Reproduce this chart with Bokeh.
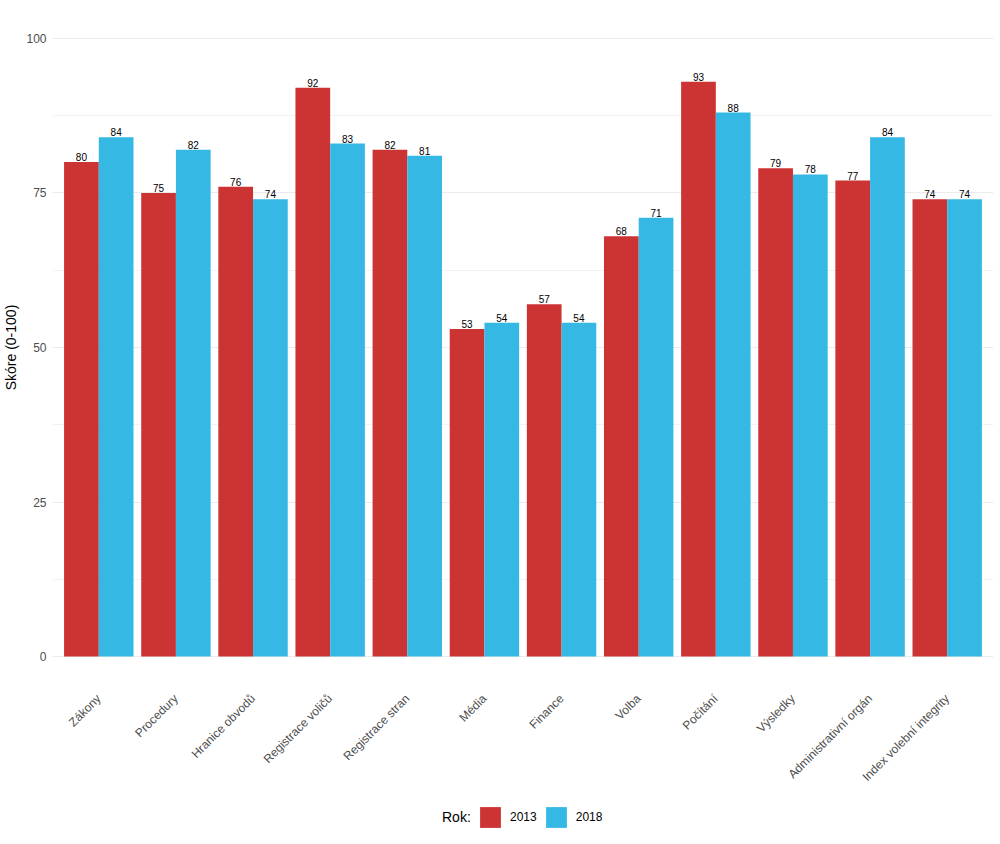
import math
from bokeh.plotting import figure
from bokeh.layouts import column
from bokeh.models import (ColumnDataSource, FactorRange, Range1d, SingleIntervalTicker,
                          Legend, LegendItem)
from bokeh.transform import dodge
from bokeh.core.properties import value
from bokeh.embed import file_html
from bokeh.resources import INLINE

categories = ["Zákony", "Procedury", "Hranice obvodů", "Registrace voličů",
              "Registrace stran", "Média", "Finance", "Volba", "Počítání",
              "Výsledky", "Administrativní orgán", "Index volební integrity"]
scores_2013 = [80, 75, 76, 92, 82, 53, 57, 68, 93, 79, 77, 74]
scores_2018 = [84, 82, 74, 83, 81, 54, 54, 71, 88, 78, 84, 74]
series_labels = ["2013", "2018"]
legend_title = "Rok:"
y_title = "Skóre (0-100)"

RED = "#CC3333"
BLUE = "#35B8E3"
FONT = "Liberation Sans"

src = ColumnDataSource(dict(
    cat=categories,
    v13=scores_2013,
    v18=scores_2018,
    t13=[str(v) for v in scores_2013],
    t18=[str(v) for v in scores_2018],
))

xr = FactorRange(factors=categories, range_padding=0.1, range_padding_units="absolute")

p = figure(x_range=xr, y_range=Range1d(-5, 105),
           frame_width=941, frame_height=680,
           output_backend="svg", toolbar_location=None)
p.min_border_left = 40
p.min_border_right = 2
p.min_border_top = 7
p.min_border_bottom = 0
p.outline_line_color = None
p.background_fill_color = "white"
p.border_fill_color = "white"

r13 = p.vbar(x=dodge("cat", -0.225, range=xr), top="v13", width=0.45,
             bottom=0, source=src, fill_color=RED, line_color=None)
r18 = p.vbar(x=dodge("cat", 0.225, range=xr), top="v18", width=0.45,
             bottom=0, source=src, fill_color=BLUE, line_color=None)

p.text(x=dodge("cat", -0.225, range=xr), y="v13", text="t13", source=src,
       text_align="center", text_baseline="alphabetic", y_offset=-5,
       text_font=value(FONT), text_font_size="10px", text_color="black")
p.text(x=dodge("cat", 0.225, range=xr), y="v18", text="t18", source=src,
       text_align="center", text_baseline="alphabetic", y_offset=-5,
       text_font=value(FONT), text_font_size="10px", text_color="black")

# grids
p.xgrid.grid_line_color = None
p.yaxis.ticker = SingleIntervalTicker(interval=25, num_minor_ticks=2)
p.ygrid.grid_line_color = "#EBEBEB"
p.ygrid.grid_line_width = 1
p.ygrid.minor_grid_line_color = "#F2F2F2"
p.ygrid.minor_grid_line_width = 1

# axes
for ax in (p.xaxis[0], p.yaxis[0]):
    ax.axis_line_color = None
    ax.major_tick_line_color = None
    ax.minor_tick_line_color = None
    ax.major_tick_out = 0
    ax.major_tick_in = 0
    ax.minor_tick_out = 0
    ax.minor_tick_in = 0
    ax.major_label_text_font = FONT
    ax.major_label_text_font_size = "12px"
    ax.major_label_text_color = "#4D4D4D"

p.yaxis.axis_label = y_title
p.yaxis.axis_label_text_font = FONT
p.yaxis.axis_label_text_font_size = "14px"
p.yaxis.axis_label_text_font_style = "normal"
p.yaxis.axis_label_text_color = "black"
p.yaxis.axis_label_standoff = 4
p.yaxis.major_label_standoff = 6

p.xaxis.axis_label = None
p.xaxis.axis_label_standoff = 0
p.xaxis.major_label_orientation = math.pi / 4
p.xaxis.major_label_standoff = 9

# strip below the chart holding the legend (its bars lie outside its y range)
lg = figure(x_range=xr, y_range=Range1d(1000, 1100),
            frame_width=941, frame_height=53, output_backend="svg",
            toolbar_location=None, x_axis_location=None, y_axis_location=None)
lg.min_border_left = 52
lg.min_border_right = 2
lg.min_border_top = 0
lg.min_border_bottom = 0
lg.outline_line_color = None
lg.grid.visible = False
k13 = lg.vbar(x=dodge("cat", -0.225, range=xr), top="v13", width=0.45, bottom=0,
              source=src, fill_color=RED, line_color=None)
k18 = lg.vbar(x=dodge("cat", 0.225, range=xr), top="v18", width=0.45, bottom=0,
              source=src, fill_color=BLUE, line_color=None)
kt = lg.vbar(x=dodge("cat", 0.0, range=xr), top="v13", width=0.45, bottom=0,
             source=src, fill_alpha=0, line_color=None)


def style(leg, size):
    leg.label_text_font = FONT
    leg.label_text_font_size = size
    leg.label_text_color = "black"
    leg.glyph_height = 26
    leg.border_line_color = None
    leg.background_fill_alpha = 0
    leg.padding = 0
    leg.margin = 0
    leg.orientation = "horizontal"


title_leg = Legend(items=[LegendItem(label=legend_title, renderers=[kt], index=0)],
                   location=(390, 14))
style(title_leg, "14px")
title_leg.glyph_width = 0
title_leg.label_standoff = 0

legend = Legend(items=[LegendItem(label=series_labels[0], renderers=[k13], index=0),
                       LegendItem(label=series_labels[1], renderers=[k18], index=0)],
                location=(425, 14))
style(legend, "12px")
legend.glyph_width = 26
legend.label_standoff = 7
legend.spacing = 6

lg.add_layout(title_leg, "center")
lg.add_layout(legend, "center")

layout = column(p, lg, spacing=0)
open("out.html", "w").write(file_html(layout, INLINE))
